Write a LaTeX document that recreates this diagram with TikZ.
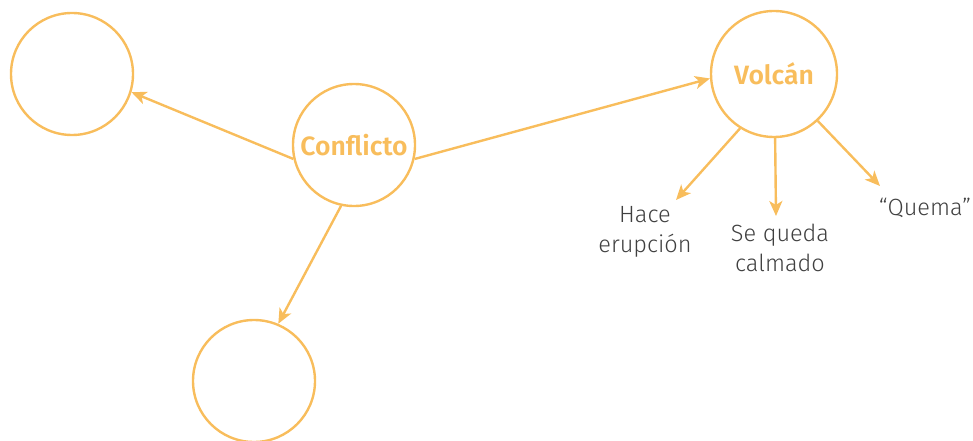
\documentclass[tikz,border=0pt]{standalone}
\usepackage{fontspec}
\setmainfont{Fira Sans}[UprightFont=* Light, BoldFont=* SemiBold]
\usetikzlibrary{arrows.meta}
\definecolor{ora}{RGB}{248,189,92}
\begin{document}
\begin{tikzpicture}[x=1pt,y=-1pt,
  circ/.style={circle,draw=ora,line width=2.4pt,minimum size=122pt,inner sep=0pt,
    text=ora,font=\bfseries\fontsize{26.5}{30}\selectfont},
  lbl/.style={text=black!75,align=center,font=\fontsize{23.5}{30}\selectfont,inner sep=0pt},
  arr/.style={draw=ora,line width=2.4pt,-{Stealth[length=15pt,width=13pt,inset=4pt]}}]
\useasboundingbox (0,0) rectangle (973,441);
\node[circ] (l) at (72,74) {};
\node[circ] (c) at (354,145) {Conflicto};
\node[circ,minimum size=126pt] (v) at (774,74) {Volcán};
\node[circ] (b) at (254,381) {};
\node[lbl] (h) at (645,232) {Hace\\erupción};
\node[lbl] (s) at (780,248) {Se queda\\calmado};
\node[lbl] (q) at (925,208) {“Quema”};
\coordinate (ha) at (676,200);
\coordinate (sa) at (776,216);
\coordinate (qa) at (880,186);
\draw[arr] (c.{193}) -- (l.{-17});
\draw[arr] (c.{-13}) -- (v.{-176});
\draw[arr] (c.{-102}) -- (b.{67});
\draw[arr] (v.{-122}) -- (ha);
\draw[arr] (v.{-89}) -- (sa);
\draw[arr] (v.{-47}) -- (qa);
\end{tikzpicture}
\end{document}
